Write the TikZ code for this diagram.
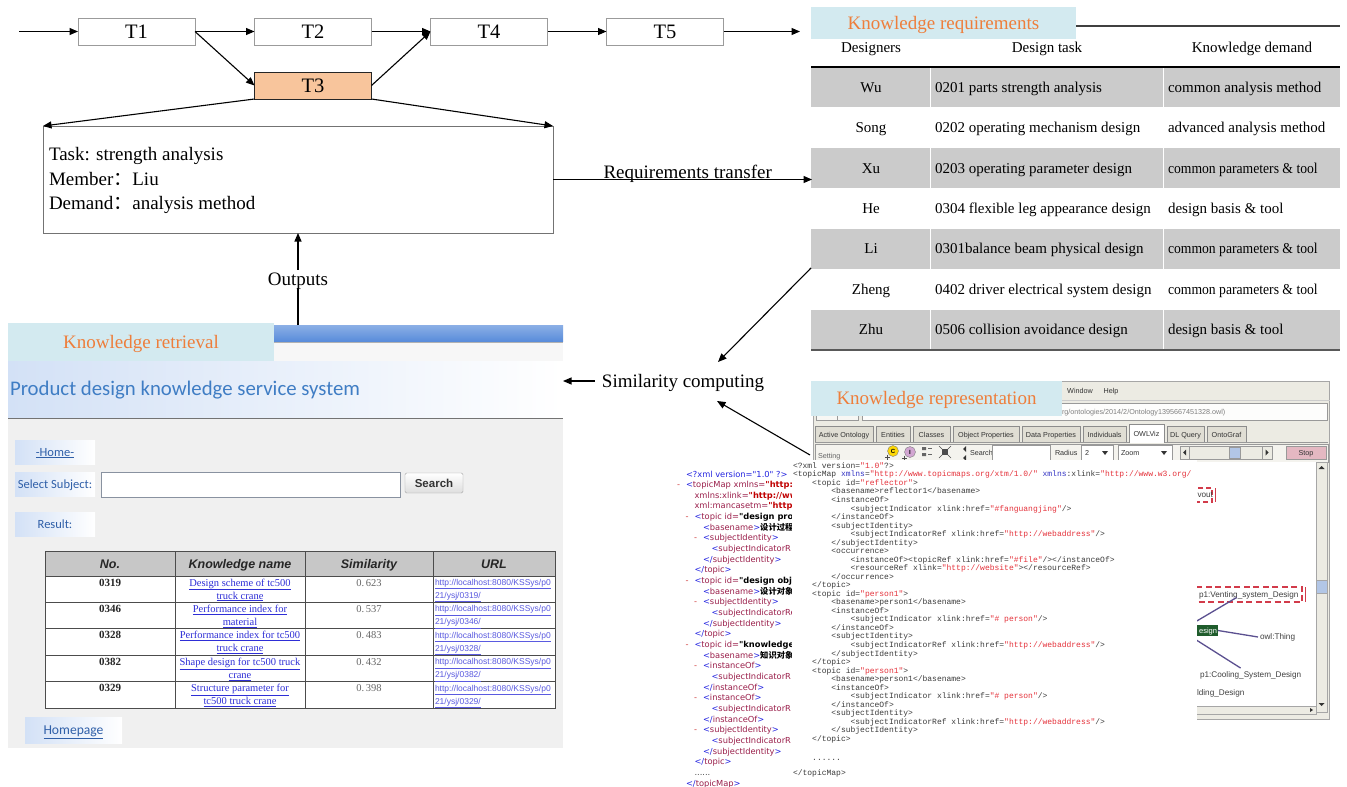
\documentclass[tikz,border=0pt]{standalone}
\usepackage{graphicx}
\usepackage{fontspec}
\setmainfont{Liberation Serif}
\setsansfont{Liberation Sans}
\setmonofont{Liberation Mono}
\newfontfamily\cjkfont{Noto Sans CJK SC}
\newfontfamily\webfont{Carlito}
\newfontfamily\xmlfont{DejaVu Sans}
\usetikzlibrary{arrows.meta}

\newcommand\fsz[2]{\fontsize{#1}{#2}\selectfont}
\newcommand\cond[1]{\scalebox{0.91}[1]{#1}}

% palette
\definecolor{labelfill}{HTML}{D3EAF0}
\definecolor{labeltext}{HTML}{EE7E3B}
\definecolor{t3fill}{HTML}{F8C59C}
\definecolor{tborder}{HTML}{9B9B9B}
\definecolor{rowfill}{HTML}{CBCBCB}
\definecolor{pagebg}{HTML}{F0F0F0}
\definecolor{titleblue}{HTML}{3F7DC4}
\definecolor{linkblue}{HTML}{2E2ED6}
\definecolor{urlblue}{HTML}{5A5AE0}
\definecolor{btnblue}{HTML}{D3E1F6}
\definecolor{navtext}{HTML}{2F5FA8}
\definecolor{barblue}{HTML}{5A8DDB}
\definecolor{protbg}{HTML}{ECEBE3}
\definecolor{tabfill}{HTML}{E0DED4}
\definecolor{thumbblue}{HTML}{B2C6E6}
\definecolor{stoppink}{HTML}{E4B8C2}
\definecolor{codetext}{HTML}{3C3C3C}
\definecolor{codestr}{HTML}{E5323B}
\definecolor{codeattr}{HTML}{3434C4}
\definecolor{ietag}{HTML}{9A1E4A}
\definecolor{iebrk}{HTML}{2424E0}
\definecolor{ieval}{HTML}{C00000}
\definecolor{iedash}{HTML}{D04040}
\definecolor{graphline}{HTML}{5B5090}
\definecolor{nodegreen}{HTML}{1F5C2C}
\definecolor{dashred}{HTML}{D23B4A}

\newcounter{iecount}
\newcounter{cdcount}
% browser view of the XML tree
\newcommand\ieb[1]{\textcolor{iebrk}{#1}}
\newcommand\ien[1]{\textcolor{ietag}{#1}}
\newcommand\iev[1]{\textcolor{ieval}{\bfseries #1}}
\newcommand\iek[1]{\textcolor{black}{\bfseries #1}}
\newcommand\iedash{\textcolor{iedash}{-}}
\newcommand\iel[4]{\stepcounter{iecount}%
  \node[ieln] (ie-\arabic{iecount}) at ({677+8.5*#2},{474+10.66*#1}) {\makebox[9pt][l]{#3}#4};}
% topic map source listing (four characters per indent level)
\newcommand\cs[1]{\textcolor{codestr}{#1}}
\newcommand\ca[1]{\textcolor{codeattr}{#1}}
\newcommand\cdl[3]{\stepcounter{cdcount}%
  \node[codeln] (code-\arabic{cdcount}) at ({793+19.2*#2},{466+8.53*#1}) {#3};}
% one row of the requirements table
\newcommand\reqrow[4]{%
  \node[cell] (who-#1) at (871,{67+40.43*(#1+0.5)}) {#2};
  \node[cell, anchor=west] (dtask-#1) at (935,{67+40.43*(#1+0.5)}) {#3};
  \node[cell, anchor=west] (need-#1) at (1168,{67+40.43*(#1+0.5)}) {#4};}
% one row of the retrieval result table
\newcommand\resrow[6]{%
  \node[resno] (no-#1) at (110,{576+26.4*#1+6.5}) {#2};
  \node[resname] (name-#1a) at (240,{576+26.4*#1+6.5}) {\underline{#3}};
  \node[resname] (name-#1b) at (240,{576+26.4*#1+19.5}) {\underline{#4}};
  \node[ressim] (score-#1) at (369,{576+26.4*#1+6.5}) {#5};
  \node[resurl] (url-#1a) at (435,{576+26.4*#1+6.5}) {\underline{http://localhost:8080/KSSys/p0}};
  \node[resurl] (url-#1b) at (435,{576+26.4*#1+19.5}) {\underline{21/ysj/#6/}};}

\tikzset{
  tbox/.style={draw=tborder, line width=0.9pt, fill=white, minimum width=117pt,
    minimum height=27pt, font=\fsz{20.5}{24}, text height=13.5pt, text depth=0pt},
  flow/.style={-{Triangle[length=8.5pt,width=7pt]}, line width=1.1pt},
  lab/.style={font=\fsz{19}{23}, text height=12.6pt, text depth=0pt},
  boxtext/.style={lab, anchor=west},
  tagbox/.style={fill=labelfill, text=labeltext, font=\fsz{19}{23}, text height=12.6pt, text depth=0pt},
  cell/.style={font=\fsz{15}{18}, text height=9.9pt, text depth=0pt},
  navbtn/.style={left color=btnblue, right color=white, minimum width=80pt, minimum height=24pt,
    font=\webfont\fsz{12.5}{14}, text=navtext, text height=8pt, text depth=0pt},
  reshead/.style={font=\sffamily\bfseries\itshape\fsz{12.5}{14}, text=black!85, text height=9pt, text depth=0pt},
  resno/.style={font=\bfseries\fsz{11}{12}, text=black!85, text height=7.3pt, text depth=0pt},
  resname/.style={font=\fsz{10.5}{12}, text=linkblue, text height=7pt, text depth=0pt},
  ressim/.style={font=\fsz{10.5}{12}, text=black!60, text height=7pt, text depth=0pt},
  resurl/.style={anchor=west, font=\sffamily\fsz{8.5}{10}, text=urlblue, text height=6pt, text depth=0pt},
  ui/.style={font=\sffamily\fsz{7.2}{9}, text=black!80, text height=5.2pt, text depth=0pt},
  ieln/.style={anchor=west, font=\xmlfont\fsz{8.3}{10}, text height=6pt, text depth=0pt},
  codeln/.style={anchor=west, font=\ttfamily\fsz{8}{9}, text=codetext, text height=4.7pt, text depth=0pt},
  graphtxt/.style={font=\sffamily\fsz{8.2}{10}, text=black!75, text height=5.9pt, text depth=0pt},
}

\begin{document}
\begin{tikzpicture}[x=1pt, y=-1pt, every node/.style={inner sep=0pt, outer sep=0pt}]
\useasboundingbox (0,0) rectangle (1347,787);
\fill[white] (0,0) rectangle (1347,787);

% ---------------- task flow ----------------
\node[tbox] (t1) at (136.5,31.5) {T1};
\node[tbox] (t2) at (313,31.5) {T2};
\node[tbox] (t4) at (489,31.5) {T4};
\node[tbox] (t5) at (665,31.5) {T5};
\node[tbox, fill=t3fill, draw=black!85] (t3) at (313,85.5) {T3};
\coordinate (flow-in) at (19,31.5);
\coordinate (req-top) at (800,31.5);

\node[draw=black!55, line width=0.9pt, minimum width=510pt, minimum height=107pt] (task) at (298,179.5) {};
\node[boxtext] (task-l1) at (49,154.5) {Task: strength analysis};
\node[boxtext] (task-l2) at (49,179.5) {Member{\cjkfont ：}Liu};
\node[boxtext] (task-l3) at (49,203.5) {Demand{\cjkfont ：}analysis method};

\draw[flow] (flow-in) -- (t1.west);
\draw[flow] (t1.east) -- (t2.west);
\draw[flow] (t2.east) -- (t4.west);
\draw[flow] (t4.east) -- (t5.west);
\draw[flow] (t5.east) -- (req-top);
\draw[flow] (t1.east) -- (t3.west);
\draw[flow] (t3.east) -- (t4.west);
\draw[flow] (t3.south west) -- (task.north west);
\draw[flow] (t3.south east) -- (task.north east);

% ---------------- knowledge requirements table ----------------
\foreach \i in {0,2,4,6} {
  \fill[rowfill] (811,{67+40.43*\i}) rectangle (1340,{67+40.43*(\i+1)});
}
\draw[white, line width=0.8pt] (930.5,67) -- (930.5,350) (1163,67) -- (1163,350);
\node[tagbox, minimum width=265pt, minimum height=32pt] (req-label) at (943.5,23) {Knowledge requirements};
\draw[black!75, line width=1.2pt] (req-label.east |- 0,26) -- (1340,26);
\node[cell] (head-who) at (871,48) {Designers};
\node[cell] (head-task) at (1047,48) {Design task};
\node[cell] (head-need) at (1252,48) {Knowledge demand};
\draw[black, line width=1.2pt] (811,67) -- (1340,67);
\draw[black!65, line width=2pt] (811,350) -- (1340,350);
\reqrow{0}{Wu}{0201 parts strength analysis}{common analysis method}
\reqrow{1}{Song}{0202 operating mechanism design}{advanced analysis method}
\reqrow{2}{Xu}{0203 operating parameter design}{\cond{common parameters \& tool}}
\reqrow{3}{He}{0304 flexible leg appearance design}{design basis \& tool}
\reqrow{4}{Li}{0301balance beam physical design}{\cond{common parameters \& tool}}
\reqrow{5}{Zheng}{0402 driver electrical system design}{\cond{common parameters \& tool}}
\reqrow{6}{Zhu}{0506 collision avoidance design}{design basis \& tool}
\coordinate (req-in) at (812,179.5);
\coordinate (row-li) at (811,268);

% ---------------- knowledge retrieval page ----------------
\fill[white!97!black] (8,341) rectangle (563,361);
\fill[top color=barblue!70!white, bottom color=barblue] (274,325) rectangle (563,341);
\draw[black!30] (274,342) -- (563,342);
\shade[left color=btnblue, right color=white] (8,361) rectangle (563,418);
\fill[pagebg] (8,419) rectangle (563,748);
\draw[black!55, line width=1pt] (8,418.5) -- (563,418.5);
\node[anchor=west, text=titleblue, font=\webfont\fsz{20.8}{24}, text height=13.4pt, text depth=0pt] (page-title) at (10,389) {Product design knowledge service system};

\node[navbtn] (btn-home) at (55,452) {\underline{-Home-}};
\node[navbtn] (btn-subject) at (55,484) {Select Subject:};
\node[navbtn] (btn-result) at (55,524) {Result:};
\node[draw=black!35!btnblue, fill=white, minimum width=299pt, minimum height=25pt] (subject-field) at (250.5,484.5) {};
\node[draw=black!35, top color=white, bottom color=black!13, rounded corners=1.5pt, minimum width=58pt, minimum height=20pt,
  font=\sffamily\bfseries\fsz{11.5}{13}, text=black!80, text height=8.3pt, text depth=0pt] (btn-search) at (434,483) {Search};

\fill[white] (45,576) rectangle (555,708);
\fill[black!22] (45,551) rectangle (555,576);
\draw[black!70, line width=1pt] (45,551) rectangle (555,708);
\foreach \x in {175,305,433} { \draw[black!70, line width=1pt] (\x,551) -- (\x,708); }
\foreach \i in {0,...,4} { \draw[black!70, line width=1pt] (45,{576+26.4*\i}) -- (555,{576+26.4*\i}); }
\node[reshead] (hd-no) at (110,563.5) {No.};
\node[reshead] (hd-name) at (240,563.5) {Knowledge name};
\node[reshead] (hd-sim) at (369,563.5) {Similarity};
\node[reshead] (hd-url) at (494,563.5) {URL};
\resrow{0}{0319}{Design scheme of tc500}{truck crane}{0.\,623}{0319}
\resrow{1}{0346}{Performance index for}{material}{0.\,537}{0346}
\resrow{2}{0328}{Performance index for tc500}{truck crane}{0.\,483}{0328}
\resrow{3}{0382}{Shape design for tc500 truck}{crane}{0.\,432}{0382}
\resrow{4}{0329}{Structure parameter for}{tc500 truck crane}{0.\,398}{0329}
\node[navbtn, minimum width=97pt, minimum height=26pt, font=\webfont\fsz{13.6}{15}, text height=8.8pt] (btn-homepage) at (73.5,730) {\underline{Homepage}};

\node[tagbox, minimum width=266pt, minimum height=38pt] (ret-label) at (141,342) {Knowledge retrieval};
\coordinate (page-top) at (298,325);
\coordinate (page-edge) at (563,381);

% ---------------- ontology editor window ----------------
\fill[protbg] (813,381) rectangle (1330,720);
\draw[black!35] (813.5,381.5) rectangle (1329.5,719.5);
\node[ui] (menu-window) at (1080,391) {Window};
\node[ui] (menu-help) at (1111,391) {Help};
\draw[black!20] (813,400.5) -- (1330,400.5);
\draw[black!40, fill=protbg!40!white] (816,403) rectangle (858,420);
\draw[black!40] (837,403) -- (837,420);
\draw[black!40, fill=white!90!protbg] (862,403) rectangle (1327,420);
\node[ui, anchor=west, text=black!50] (address) at (1062,411.5) {rg/ontologies/2014/2/Ontology1395667451328.owl)};
\draw[black!40] (815,442) -- (1328,442);
\foreach \nm/\xa/\xb in {Active Ontology/815/873, Entities/876/910, Classes/913/950, Object Properties/953/1019,
    Data Properties/1022/1080, Individuals/1083/1126, DL Query/1167/1204, OntoGraf/1207/1246} {
  \draw[black!45, fill=tabfill] (\xa,442) -- (\xa,426) -- (\xb,426) -- (\xb,442);
  \node[ui] (tab-\xa) at ({(\xa+\xb)/2},434.5) {\nm};
}
\draw[black!45, fill=white] (1129,443) -- (1129,424) -- (1164,424) -- (1164,443);
\node[ui] (tab-owlviz) at (1146.5,434) {OWLViz};

% toolbar
\draw[black!40, fill=protbg!60!white] (815,444) rectangle (1328,462);
\node[ui, anchor=west, text=black!60] (setting) at (818,456) {Setting};
\draw[black!50, fill=yellow!75!orange] (893,451) circle (5.5);
\node[font=\sffamily\bfseries\fsz{6}{7}, text height=4.3pt, text depth=0pt] (icon-c) at (893,451) {C};
\draw[black!50, fill=violet!35] (910,452) circle (5.5);
\node[font=\sffamily\bfseries\fsz{6}{7}, text height=4.3pt, text depth=0pt] (icon-i) at (910,452) {I};
\draw[black!70, line width=0.8pt] (885,457) -- (890,457) (887.5,454.5) -- (887.5,459.5)
  (902,458) -- (907,458) (904.5,455.5) -- (904.5,460.5);
\fill[black!60] (922,447) rectangle (926,450) (922,453) rectangle (926,456);
\draw[black!60] (928,448.5) -- (932,448.5) (928,454.5) -- (932,454.5);
\fill[black!70] (942,449) rectangle (948,455);
\draw[black!70] (939,446) -- (951,458) (951,446) -- (939,458);
\fill[black!80] (966,446) -- (963,449) -- (966,452) -- cycle (966,455) -- (963,458) -- (966,461) -- cycle;
\node[ui, anchor=west] (search-lbl) at (970,452.5) {Search};
\draw[black!40, fill=white] (992,445.5) rectangle (1050,460);
\node[ui, anchor=west] (radius-lbl) at (1055,453) {Radius};
\draw[black!40, fill=white] (1081,445.5) rectangle (1113,460);
\node[ui, anchor=west] (radius-val) at (1085,453) {2};
\fill[black!80] (1102,451) -- (1108,451) -- (1105,455) -- cycle;
\draw[black!40, fill=white] (1118,445.5) rectangle (1172,460);
\node[ui, anchor=west] (zoom-val) at (1121,453) {Zoom};
\fill[black!80] (1161,451) -- (1167,451) -- (1164,455) -- cycle;
\draw[black!40, fill=protbg] (1180,446) rectangle (1272,459);
\draw[black!40] (1189,446) -- (1189,459) (1262,446) -- (1262,459);
\fill[black!80] (1186,449.5) -- (1183,452.5) -- (1186,455.5) -- cycle;
\fill[black!80] (1265.5,449.5) -- (1268.5,452.5) -- (1265.5,455.5) -- cycle;
\draw[black!40, fill=thumbblue] (1229,447) rectangle (1240,458);
\node[draw=black!40, fill=stoppink, minimum width=40pt, minimum height=13pt, ui] (btn-stop) at (1306,452.5) {Stop};

% graph canvas
\fill[white] (815,462) rectangle (1316,706);
\draw[black!35, fill=protbg] (1316,462) rectangle (1327,712);
\fill[black!80] (1318.5,469) -- (1321.5,466) -- (1324.5,469) -- cycle;
\fill[black!80] (1318.5,703) -- (1321.5,706) -- (1324.5,703) -- cycle;
\draw[black!35, fill=thumbblue] (1316,580) rectangle (1327,593);
\draw[black!35, fill=protbg] (1190,706) rectangle (1316,714);
\fill[black!80] (1310,708) -- (1313,710) -- (1310,712) -- cycle;

\draw[dashred, line width=1.5pt, dash pattern=on 5pt off 3pt] (1185,488) rectangle (1212,502);
\draw[dashred, line width=1.5pt] (1215.5,488) -- (1215.5,502);
\node[graphtxt, anchor=west] (cls-vout) at (1197.5,495) {vout};
\draw[dashred, line width=1.5pt, dash pattern=on 6pt off 3.5pt] (1185,587) rectangle (1302,602);
\draw[dashred, line width=1.5pt] (1305.5,587) -- (1305.5,602);
\node[graphtxt, anchor=west] (cls-venting) at (1199,594.5) {p1:Venting\_system\_Design};
\node[fill=nodegreen, text=white, font=\sffamily\fsz{7.5}{9}, minimum height=11pt, text width=26pt, align=right,
  inner xsep=1pt, text height=5.4pt, text depth=0pt] (cls-design) at (1204,630.5) {esign};
\node[graphtxt, anchor=west] (cls-thing) at (1260,637) {owl:Thing};
\node[graphtxt, anchor=west] (cls-cooling) at (1200,675) {p1:Cooling\_System\_Design};
\node[graphtxt, anchor=west] (cls-folding) at (1197,693) {lding\_Design};
\draw[graphline, line width=1.3pt] (cls-design.north west) -- ([xshift=-12pt]cls-venting.south);
\draw[graphline, line width=1.3pt] (cls-design.east) -- ([xshift=-2pt]cls-thing.west);
\draw[graphline, line width=1.3pt] (cls-design.south west) -- ([xshift=-10pt, yshift=4pt]cls-cooling.north);
\coordinate (editor-edge) at (810,455);

% browser view of the XML file
\begin{scope}
\clip (668,462) rectangle (792,787);
\iel{0}{0}{}{\ieb{<?xml version="1.0" ?>}}
\iel{1}{0}{\iedash}{\ieb{<}\ien{topicMap xmlns=}\iev{"http:/}}
\iel{2}{1}{}{\ien{xmlns:xlink=}\iev{"http://ww}}
\iel{3}{1}{}{\ien{xml:mancasetm=}\iev{"http:}}
\iel{4}{1}{\iedash}{\ieb{<}\ien{topic id=}\iek{"design proc}}
\iel{5}{2}{}{\ieb{<}\ien{basename}\ieb{>}\iek{\cjkfont 设计过程}}
\iel{6}{2}{\iedash}{\ieb{<}\ien{subjectIdentity}\ieb{>}}
\iel{7}{3}{}{\ieb{<}\ien{subjectIndicatorR}}
\iel{8}{2}{}{\ieb{</}\ien{subjectIdentity}\ieb{>}}
\iel{9}{1}{}{\ieb{</}\ien{topic}\ieb{>}}
\iel{10}{1}{\iedash}{\ieb{<}\ien{topic id=}\iek{"design obje}}
\iel{11}{2}{}{\ieb{<}\ien{basename}\ieb{>}\iek{\cjkfont 设计对象}}
\iel{12}{2}{\iedash}{\ieb{<}\ien{subjectIdentity}\ieb{>}}
\iel{13}{3}{}{\ieb{<}\ien{subjectIndicatorRe}}
\iel{14}{2}{}{\ieb{</}\ien{subjectIdentity}\ieb{>}}
\iel{15}{1}{}{\ieb{</}\ien{topic}\ieb{>}}
\iel{16}{1}{\iedash}{\ieb{<}\ien{topic id=}\iek{"knowledge}}
\iel{17}{2}{}{\ieb{<}\ien{basename}\ieb{>}\iek{\cjkfont 知识对象}}
\iel{18}{2}{\iedash}{\ieb{<}\ien{instanceOf}\ieb{>}}
\iel{19}{3}{}{\ieb{<}\ien{subjectIndicatorR}}
\iel{20}{2}{}{\ieb{</}\ien{instanceOf}\ieb{>}}
\iel{21}{2}{\iedash}{\ieb{<}\ien{instanceOf}\ieb{>}}
\iel{22}{3}{}{\ieb{<}\ien{subjectIndicatorR}}
\iel{23}{2}{}{\ieb{</}\ien{instanceOf}\ieb{>}}
\iel{24}{2}{\iedash}{\ieb{<}\ien{subjectIdentity}\ieb{>}}
\iel{25}{3}{}{\ieb{<}\ien{subjectIndicatorR}}
\iel{26}{2}{}{\ieb{</}\ien{subjectIdentity}\ieb{>}}
\iel{27}{1}{}{\ieb{</}\ien{topic}\ieb{>}}
\iel{28}{1}{}{\textcolor{black!70}{......}}
\iel{29}{0}{}{\ieb{</}\ien{topicMap}\ieb{>}}
\end{scope}

% topic map source
\fill[white] (792,460) rectangle (1197,787);
\cdl{0}{0}{<?xml version=\cs{"1.0"}?>}
\cdl{1}{0}{<topicMap \ca{xmlns}=\cs{"http://www.topicmaps.org/xtm/1.0/"} \ca{xmlns}:xlink=\cs{"http://www.w3.org/}}
\cdl{2}{1}{<topic id=\cs{"reflector"}>}
\cdl{3}{2}{<basename>reflector1</basename>}
\cdl{4}{2}{<instanceOf>}
\cdl{5}{3}{<subjectIndicator xlink:href=\cs{"\#fanguangjing"}/>}
\cdl{6}{2}{</instanceOf>}
\cdl{7}{2}{<subjectIdentity>}
\cdl{8}{3}{<subjectIndicatorRef xlink:href=\cs{"http://webaddress"}/>}
\cdl{9}{2}{</subjectIdentity>}
\cdl{10}{2}{<occurrence>}
\cdl{11}{3}{<instanceOf><topicRef xlink:href=\cs{"\#file"}/></instanceOf>}
\cdl{12}{3}{<resourceRef xlink=\cs{"http://website"}></resourceRef>}
\cdl{13}{2}{</occurrence>}
\cdl{14}{1}{</topic>}
\cdl{15}{1}{<topic id=\cs{"person1"}>}
\cdl{16}{2}{<basename>person1</basename>}
\cdl{17}{2}{<instanceOf>}
\cdl{18}{3}{<subjectIndicator xlink:href=\cs{"\# person"}/>}
\cdl{19}{2}{</instanceOf>}
\cdl{20}{2}{<subjectIdentity>}
\cdl{21}{3}{<subjectIndicatorRef xlink:href=\cs{"http://webaddress"}/>}
\cdl{22}{2}{</subjectIdentity>}
\cdl{23}{1}{</topic>}
\cdl{24}{1}{<topic id=\cs{"person1"}>}
\cdl{25}{2}{<basename>person1</basename>}
\cdl{26}{2}{<instanceOf>}
\cdl{27}{3}{<subjectIndicator xlink:href=\cs{"\# person"}/>}
\cdl{28}{2}{</instanceOf>}
\cdl{29}{2}{<subjectIdentity>}
\cdl{30}{3}{<subjectIndicatorRef xlink:href=\cs{"http://webaddress"}/>}
\cdl{31}{2}{</subjectIdentity>}
\cdl{32}{1}{</topic>}
\cdl{34.25}{1}{......}
\cdl{36}{0}{</topicMap>}

\node[tagbox, minimum width=251pt, minimum height=35pt] (rep-label) at (936.5,398.5) {Knowledge representation};

% ---------------- links between the parts ----------------
\node[lab] (sim) at (683,381) {Similarity computing};
\coordinate (sim-top) at (718,362);
\coordinate (sim-bottom) at (717,401);
\draw[flow] (task.east) -- node[lab, above=1pt, pos=0.52] (req-transfer) {Requirements transfer} (req-in);
\draw[flow] (page-top) -- node[lab, fill=white, inner ysep=3pt, inner xsep=2pt] (outputs) {Outputs} (task.south);
\draw[flow] (row-li) -- (sim-top);
\draw[flow] (editor-edge) -- (sim-bottom);
\draw[flow] ([xshift=-7pt]sim.west) -- (page-edge);
\end{tikzpicture}
\end{document}
